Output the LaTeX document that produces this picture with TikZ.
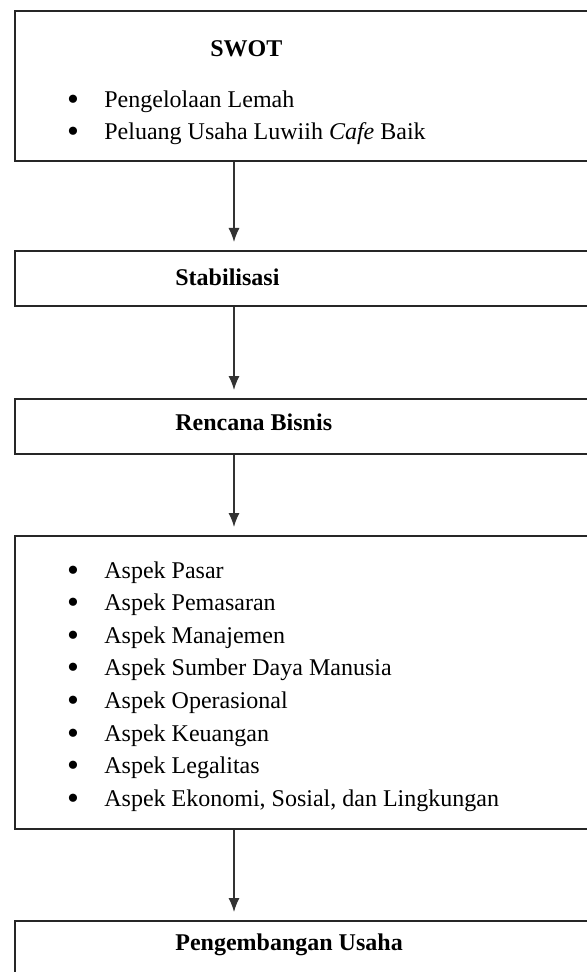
\documentclass[tikz,border=0pt]{standalone}
\usepackage{fontspec}
\setmainfont{Liberation Serif}
\usetikzlibrary{arrows.meta}
\begin{document}
\begin{tikzpicture}[x=0.5pt,y=-0.5pt]
        \useasboundingbox (0,0) rectangle (587,972);
        \clip (0,0) rectangle (587,972);
        \tikzstyle{every node}=[inner sep=0pt, font=\fontsize{12}{14}\selectfont]
        \tikzstyle{kotak}=[draw=black!85, line width=1pt, anchor=north west, minimum width=320pt]
        \tikzstyle{judul}=[anchor=base west, font=\fontsize{12}{14}\selectfont\bfseries]
        \tikzstyle{butir}=[anchor=base west]
        \tikzstyle{titik}=[anchor=base, font=\fontsize{17}{17}\selectfont]
        \tikzstyle{panah}=[-{Latex[length=7pt,width=5.5pt]}, draw=black!80, line width=0.6pt, shorten >=4pt]
        % kotak-kotak
        \node[kotak, minimum height=75pt]   (swot)    at (14,  10) {};
        \node[kotak, minimum height=27.5pt] (stabil)  at (14, 250) {};
        \node[kotak, minimum height=27.5pt] (rencana) at (14, 398) {};
        \node[kotak, minimum height=146.5pt] (aspek)  at (14, 535) {};
        \node[kotak, minimum height=50pt]   (kembang) at (14, 920) {};
        % judul
        \node[judul] (tswot)    at (210,  57) {SWOT};
        \node[judul] (tstabil)  at (175, 286) {Stabilisasi};
        \node[judul] (trencana) at (175, 430) {Rencana Bisnis};
        \node[judul] (tkembang) at (175, 950) {Pengembangan Usaha};
        % butir SWOT
        \node[titik] (bs1) at (73, 111) {\textbullet};
        \node[butir] (s1)  at (104, 108) {Pengelolaan Lemah};
        \node[titik] (bs2) at (73, 143) {\textbullet};
        \node[butir] (s2)  at (104, 140) {Peluang Usaha Luwiih \textit{Cafe} Baik};
        % butir aspek
        \foreach \txt [count=\i] in {Aspek Pasar, Aspek Pemasaran, Aspek Manajemen,
                Aspek Sumber Daya Manusia, Aspek Operasional, Aspek Keuangan,
                Aspek Legalitas, {Aspek Ekonomi, Sosial, dan Lingkungan}} {
            \node[titik] (ba\i) at (73, {581+(\i-1)*32.6}) {\textbullet};
            \node[butir] (a\i)  at (104, {578+(\i-1)*32.6}) {\txt};
        }
        % panah
        \coordinate (sumbu) at (234, 0);
        \draw[panah] (swot.south -| sumbu)    -- (stabil.north -| sumbu);
        \draw[panah] (stabil.south -| sumbu)  -- (rencana.north -| sumbu);
        \draw[panah] (rencana.south -| sumbu) -- (aspek.north -| sumbu);
        \draw[panah] (aspek.south -| sumbu)   -- (kembang.north -| sumbu);
    \end{tikzpicture}
\end{document}
